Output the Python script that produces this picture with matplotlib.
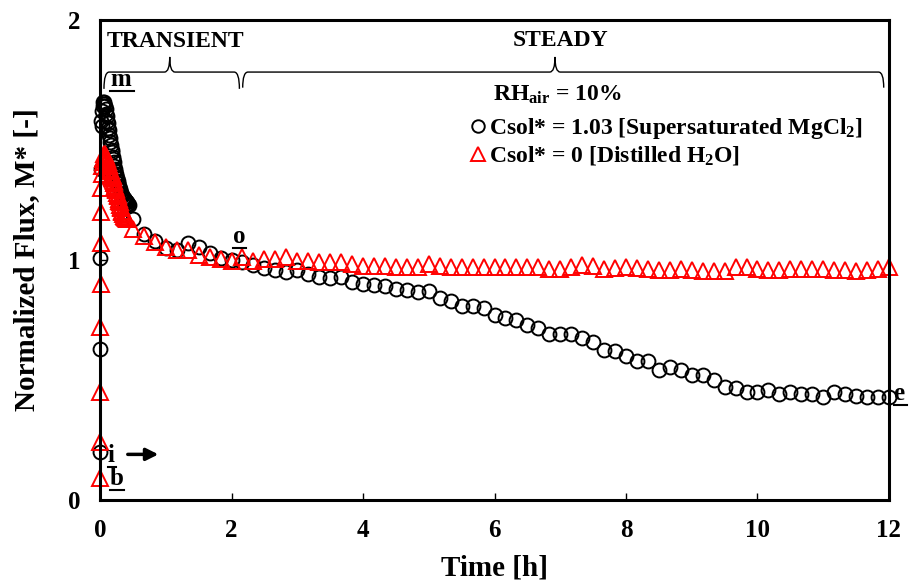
import numpy as np
import matplotlib
matplotlib.use("Agg")
import matplotlib.pyplot as plt
from matplotlib.path import Path
from matplotlib.patches import PathPatch

plt.rcParams['font.family'] = ['Liberation Serif', 'DejaVu Serif']
plt.rcParams['font.weight'] = 'bold'
plt.rcParams['axes.labelweight'] = 'bold'
plt.rcParams['mathtext.fontset'] = 'custom'
plt.rcParams['mathtext.rm'] = 'Liberation Serif:bold'
plt.rcParams['mathtext.bf'] = 'Liberation Serif:bold'
plt.rcParams['mathtext.it'] = 'Liberation Serif:bold'

# --- data (time in minutes, normalized flux M*) ---
# supersaturated MgCl2, Csol* = 1.03
t_mg_transient = [0, 0.2, 0.4, 0.6, 0.9, 1.5, 2.1, 2.5,
                  3, 3.5, 4, 4.5, 5, 5.5, 6, 6.5, 7, 7.5, 8, 8.5, 9, 9.5, 10, 10.5, 11, 11.5,
                  12, 12.5, 13, 13.5, 14, 14.5, 15, 15.5, 16, 16.5, 17, 17.5, 18, 18.5, 19,
                  19.5, 20, 20.5, 21, 21.5, 22, 22.5, 23, 23.5, 24, 24.5, 25, 25.5, 26]
m_mg_transient = [0.20, 0.63, 1.01, 1.38, 1.58, 1.62, 1.56, 1.64,
                  1.66, 1.66, 1.65, 1.64, 1.63, 1.61, 1.60, 1.58, 1.57, 1.55,
                  1.54, 1.52, 1.51, 1.49, 1.48, 1.46, 1.45, 1.43, 1.42, 1.41,
                  1.39, 1.38, 1.37, 1.36, 1.35, 1.34, 1.33, 1.32, 1.31, 1.30,
                  1.295, 1.29, 1.28, 1.275, 1.27, 1.265, 1.26, 1.26, 1.255, 1.25,
                  1.25, 1.245, 1.24, 1.24, 1.235, 1.235, 1.23]

# distilled water, Csol* = 0
t_w_transient = [0, 0.12, 0.24, 0.36, 0.48, 0.6, 0.8, 1, 1.5, 2.1, 2.5,
                 3, 3.5, 4, 4.5, 5, 5.5, 6, 6.5, 7, 7.5, 8, 8.5, 9, 9.5, 10, 10.5, 11, 11.5,
                 12, 12.5, 13, 13.5, 14, 14.5, 15, 15.5, 16, 16.5, 17, 17.5, 18, 18.5, 19,
                 19.5, 20, 20.5, 21, 21.5, 22, 22.5, 23, 23.5, 24, 24.5, 25]
m_w_transient = [0.09, 0.24, 0.45, 0.72, 0.90, 1.07, 1.20, 1.30, 1.36, 1.39, 1.41,
                 1.42, 1.43, 1.44, 1.44, 1.435, 1.43, 1.42, 1.415, 1.41, 1.40,
                 1.395, 1.39, 1.38, 1.375, 1.37, 1.36, 1.355, 1.35, 1.34, 1.33,
                 1.32, 1.31, 1.305, 1.295, 1.29, 1.28, 1.27, 1.265, 1.255, 1.245,
                 1.24, 1.23, 1.22, 1.215, 1.205, 1.20, 1.19, 1.19, 1.185, 1.18,
                 1.18, 1.175, 1.175, 1.17, 1.17]

# 10 minute logging after the first half hour
t_steady = [30, 40, 50, 60, 70, 80, 90, 100, 110, 120, 130, 140, 150, 160, 170, 180,
            190, 200, 210, 220, 230, 240, 250, 260, 270, 280, 290, 300, 310, 320, 330,
            340, 350, 360, 370, 380, 390, 400, 410, 420, 430, 440, 450, 460, 470, 480,
            490, 500, 510, 520, 530, 540, 550, 560, 570, 580, 590, 600, 610, 620, 630,
            640, 650, 660, 670, 680, 690, 700, 710, 720]
m_mg_steady = [1.17, 1.11, 1.08, 1.05, 1.04, 1.07, 1.055, 1.03, 1.01, 1.00, 0.99, 0.98,
               0.967, 0.958, 0.95, 0.96, 0.94, 0.93, 0.925, 0.93, 0.91, 0.90, 0.895, 0.89,
               0.88, 0.875, 0.865, 0.87, 0.84, 0.83, 0.81, 0.81, 0.80, 0.77, 0.76, 0.75,
               0.73, 0.715, 0.69, 0.69, 0.69, 0.675, 0.66, 0.625, 0.62, 0.60, 0.58, 0.58,
               0.54, 0.555, 0.54, 0.52, 0.52, 0.50, 0.47, 0.465, 0.45, 0.45, 0.46, 0.44,
               0.45, 0.44, 0.44, 0.43, 0.45, 0.44, 0.435, 0.43, 0.43, 0.43]
m_w_steady = [1.13, 1.10, 1.075, 1.055, 1.04, 1.04, 1.02, 1.011, 1.004, 0.997, 1.011,
              0.997, 1.004, 1.004, 1.011, 0.997, 0.997, 0.99, 0.99, 0.99, 0.983, 0.976,
              0.976, 0.976, 0.969, 0.969, 0.969, 0.983, 0.976, 0.969, 0.969, 0.969, 0.969,
              0.969, 0.969, 0.969, 0.969, 0.969, 0.963, 0.963, 0.969, 0.98, 0.974, 0.963,
              0.965, 0.969, 0.965, 0.963, 0.958, 0.958, 0.961, 0.958, 0.952, 0.952, 0.955,
              0.969, 0.969, 0.963, 0.96, 0.96, 0.963, 0.963, 0.963, 0.963, 0.96, 0.958,
              0.955, 0.958, 0.963, 0.972]

x_ticks = [0, 2, 4, 6, 8, 10, 12]
y_ticks = [0, 1, 2]

t_mg = np.array(t_mg_transient + t_steady) / 60.0
m_mg = np.array(m_mg_transient + m_mg_steady)
t_w = np.array(t_w_transient + t_steady) / 60.0
m_w = np.array(m_w_transient + m_w_steady)


def brace(ax, x0, x1, xm, y, up, down, r):
    verts = [(x0, y - down), (x0, y), (x0 + r, y), (xm - r, y), (xm, y), (xm, y + up),
             (xm, y), (xm + r, y), (x1 - r, y), (x1, y), (x1, y - down)]
    codes = [Path.MOVETO, Path.CURVE3, Path.CURVE3, Path.LINETO, Path.CURVE3, Path.CURVE3,
             Path.CURVE3, Path.CURVE3, Path.LINETO, Path.CURVE3, Path.CURVE3]
    ax.add_patch(PathPatch(Path(verts, codes), fc='none', ec='black', lw=1.0, clip_on=False))


def underlined(ax, x, y, s, w):
    ax.text(x, y, s, fontsize=18, ha='left', va='baseline')
    ax.plot([x, x + w], [y - 0.022, y - 0.022], color='black', lw=1.5, clip_on=False)


fig = plt.figure(figsize=(9.16, 5.86), dpi=100)
ax = fig.add_axes([0.1092, 0.1468, 0.8613, 0.8191])

ax.plot(t_mg, m_mg, linestyle='none', marker='o', ms=10, mfc='none', mec='black', mew=1.4,
        clip_on=False, label='Csol* = 1.03 [Supersaturated MgCl$_2$]')
ax.plot(t_w, m_w, linestyle='none', marker='^', ms=11, mfc='none', mec='red', mew=1.4,
        clip_on=False, label='Csol* = 0 [Distilled H$_2$O]')

ax.set_xlim(0, 12)
ax.set_ylim(0, 2)
ax.set_xticks(x_ticks, labels=[str(v) for v in x_ticks], fontsize=18, fontweight='bold')
ax.set_yticks(y_ticks, labels=[str(v) for v in y_ticks], fontsize=18, fontweight='bold')
ax.tick_params(direction='in', length=5, width=1, pad=14)
for s in ax.spines.values():
    s.set_linewidth(2.2)
ax.set_xlabel('Time [h]', fontsize=21, fontweight='bold', labelpad=9)
ax.set_ylabel('Normalized Flux, M* [-]', fontsize=21, fontweight='bold', labelpad=20)

# regime labels and braces
ax.text(1.15, 1.91, 'TRANSIENT', fontsize=17, ha='center', va='center')
ax.text(7.0, 1.915, 'STEADY', fontsize=17, ha='center', va='center')
brace(ax, 0.06, 2.12, 1.06, 1.783, 0.063, 0.07, 0.08)
brace(ax, 2.17, 11.92, 6.92, 1.783, 0.063, 0.065, 0.08)

underlined(ax, 0.15, 1.725, 'm', 0.36)
underlined(ax, 2.02, 1.07, 'o', 0.2)
underlined(ax, 12.07, 0.417, 'e', 0.2)
underlined(ax, 0.12, 0.158, 'i', 0.12)
underlined(ax, 0.15, 0.0625, 'b', 0.21)
ax.annotate('', xy=(0.93, 0.19), xytext=(0.38, 0.19),
            arrowprops=dict(arrowstyle='-|>', lw=2.5, color='black', mutation_scale=18))

ax.text(6.95, 1.69, 'RH$_{air}$ = 10%', fontsize=17, ha='center', va='center')
ax.legend(loc='upper left', bbox_to_anchor=(0.455, 0.825), frameon=False, fontsize=17,
          handlelength=0.6, handletextpad=0.15, labelspacing=0.15, borderpad=0,
          markerscale=0.9)

fig.savefig('out.png', dpi=100)
